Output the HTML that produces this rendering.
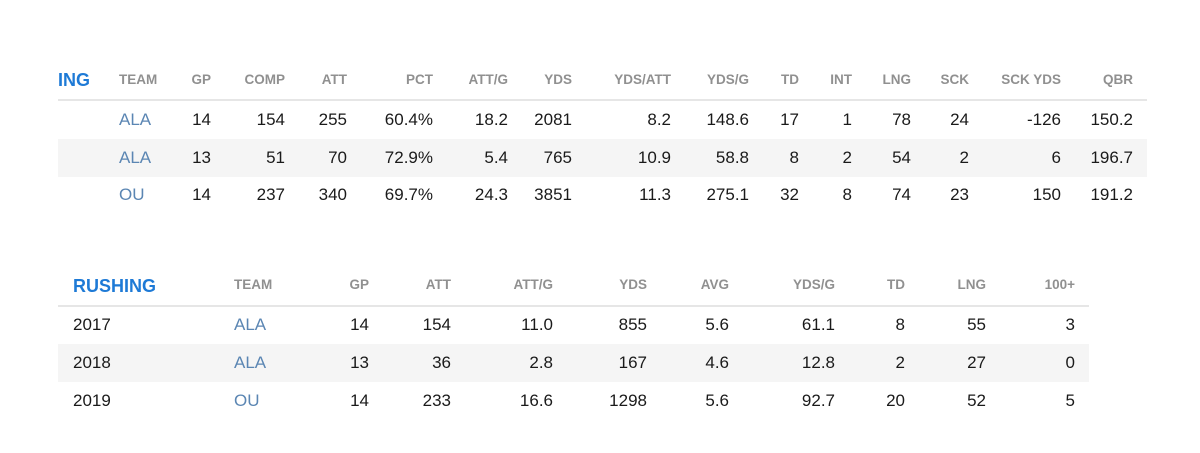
<!DOCTYPE html>
<html><head><meta charset="utf-8"><style>
body{margin:0;width:1200px;height:453px;background:#fff;position:relative;overflow:hidden;font-family:"Liberation Sans",sans-serif}
span{position:absolute;white-space:nowrap;line-height:20px}
.h{font-size:13.5px;color:#909090;font-weight:bold;margin-top:-10px}
.d{font-size:17px;color:#1a1a1a;margin-top:-10px}
.t{font-size:17px;color:#5b86b3;margin-top:-10px}
.b{font-size:18px;color:#1e7ad6;font-weight:bold;margin-top:-10px}
.rule{position:absolute;height:2px;background:#e6e6e6}
.stripe{position:absolute;background:#f5f5f5}
</style></head><body>
<div class="rule" style="left:58px;width:1089px;top:99px"></div>
<div class="stripe" style="left:58px;width:1089px;top:139px;height:38px"></div>
<div class="rule" style="left:58px;width:1031px;top:305px"></div>
<div class="stripe" style="left:58px;width:1031px;top:344px;height:38px"></div>

<span class="b" style="left:58px;top:80px">ING</span>
<span class="h" style="left:119px;top:80px">TEAM</span>
<span class="h" style="right:989px;top:80px">GP</span>
<span class="h" style="right:915px;top:80px">COMP</span>
<span class="h" style="right:853px;top:80px">ATT</span>
<span class="h" style="right:767px;top:80px">PCT</span>
<span class="h" style="right:692px;top:80px">ATT/G</span>
<span class="h" style="right:628px;top:80px">YDS</span>
<span class="h" style="right:529px;top:80px">YDS/ATT</span>
<span class="h" style="right:451px;top:80px">YDS/G</span>
<span class="h" style="right:401px;top:80px">TD</span>
<span class="h" style="right:348px;top:80px">INT</span>
<span class="h" style="right:289px;top:80px">LNG</span>
<span class="h" style="right:231px;top:80px">SCK</span>
<span class="h" style="right:139px;top:80px">SCK YDS</span>
<span class="h" style="right:67px;top:80px">QBR</span>

<span class="t" style="left:119px;top:120px">ALA</span>
<span class="d" style="right:989px;top:120px">14</span>
<span class="d" style="right:915px;top:120px">154</span>
<span class="d" style="right:853px;top:120px">255</span>
<span class="d" style="right:767px;top:120px">60.4%</span>
<span class="d" style="right:692px;top:120px">18.2</span>
<span class="d" style="right:628px;top:120px">2081</span>
<span class="d" style="right:529px;top:120px">8.2</span>
<span class="d" style="right:451px;top:120px">148.6</span>
<span class="d" style="right:401px;top:120px">17</span>
<span class="d" style="right:348px;top:120px">1</span>
<span class="d" style="right:289px;top:120px">78</span>
<span class="d" style="right:231px;top:120px">24</span>
<span class="d" style="right:139px;top:120px">-126</span>
<span class="d" style="right:67px;top:120px">150.2</span>

<span class="t" style="left:119px;top:158px">ALA</span>
<span class="d" style="right:989px;top:158px">13</span>
<span class="d" style="right:915px;top:158px">51</span>
<span class="d" style="right:853px;top:158px">70</span>
<span class="d" style="right:767px;top:158px">72.9%</span>
<span class="d" style="right:692px;top:158px">5.4</span>
<span class="d" style="right:628px;top:158px">765</span>
<span class="d" style="right:529px;top:158px">10.9</span>
<span class="d" style="right:451px;top:158px">58.8</span>
<span class="d" style="right:401px;top:158px">8</span>
<span class="d" style="right:348px;top:158px">2</span>
<span class="d" style="right:289px;top:158px">54</span>
<span class="d" style="right:231px;top:158px">2</span>
<span class="d" style="right:139px;top:158px">6</span>
<span class="d" style="right:67px;top:158px">196.7</span>

<span class="t" style="left:119px;top:195px">OU</span>
<span class="d" style="right:989px;top:195px">14</span>
<span class="d" style="right:915px;top:195px">237</span>
<span class="d" style="right:853px;top:195px">340</span>
<span class="d" style="right:767px;top:195px">69.7%</span>
<span class="d" style="right:692px;top:195px">24.3</span>
<span class="d" style="right:628px;top:195px">3851</span>
<span class="d" style="right:529px;top:195px">11.3</span>
<span class="d" style="right:451px;top:195px">275.1</span>
<span class="d" style="right:401px;top:195px">32</span>
<span class="d" style="right:348px;top:195px">8</span>
<span class="d" style="right:289px;top:195px">74</span>
<span class="d" style="right:231px;top:195px">23</span>
<span class="d" style="right:139px;top:195px">150</span>
<span class="d" style="right:67px;top:195px">191.2</span>

<span class="b" style="left:73px;top:286px">RUSHING</span>
<span class="h" style="left:234px;top:285px">TEAM</span>
<span class="h" style="right:831px;top:285px">GP</span>
<span class="h" style="right:749px;top:285px">ATT</span>
<span class="h" style="right:647px;top:285px">ATT/G</span>
<span class="h" style="right:553px;top:285px">YDS</span>
<span class="h" style="right:471px;top:285px">AVG</span>
<span class="h" style="right:365px;top:285px">YDS/G</span>
<span class="h" style="right:295px;top:285px">TD</span>
<span class="h" style="right:214px;top:285px">LNG</span>
<span class="h" style="right:125px;top:285px">100+</span>

<span class="d" style="left:73px;top:325px">2017</span>
<span class="t" style="left:234px;top:325px">ALA</span>
<span class="d" style="right:831px;top:325px">14</span>
<span class="d" style="right:749px;top:325px">154</span>
<span class="d" style="right:647px;top:325px">11.0</span>
<span class="d" style="right:553px;top:325px">855</span>
<span class="d" style="right:471px;top:325px">5.6</span>
<span class="d" style="right:365px;top:325px">61.1</span>
<span class="d" style="right:295px;top:325px">8</span>
<span class="d" style="right:214px;top:325px">55</span>
<span class="d" style="right:125px;top:325px">3</span>

<span class="d" style="left:73px;top:363px">2018</span>
<span class="t" style="left:234px;top:363px">ALA</span>
<span class="d" style="right:831px;top:363px">13</span>
<span class="d" style="right:749px;top:363px">36</span>
<span class="d" style="right:647px;top:363px">2.8</span>
<span class="d" style="right:553px;top:363px">167</span>
<span class="d" style="right:471px;top:363px">4.6</span>
<span class="d" style="right:365px;top:363px">12.8</span>
<span class="d" style="right:295px;top:363px">2</span>
<span class="d" style="right:214px;top:363px">27</span>
<span class="d" style="right:125px;top:363px">0</span>

<span class="d" style="left:73px;top:401px">2019</span>
<span class="t" style="left:234px;top:401px">OU</span>
<span class="d" style="right:831px;top:401px">14</span>
<span class="d" style="right:749px;top:401px">233</span>
<span class="d" style="right:647px;top:401px">16.6</span>
<span class="d" style="right:553px;top:401px">1298</span>
<span class="d" style="right:471px;top:401px">5.6</span>
<span class="d" style="right:365px;top:401px">92.7</span>
<span class="d" style="right:295px;top:401px">20</span>
<span class="d" style="right:214px;top:401px">52</span>
<span class="d" style="right:125px;top:401px">5</span>
</body></html>
